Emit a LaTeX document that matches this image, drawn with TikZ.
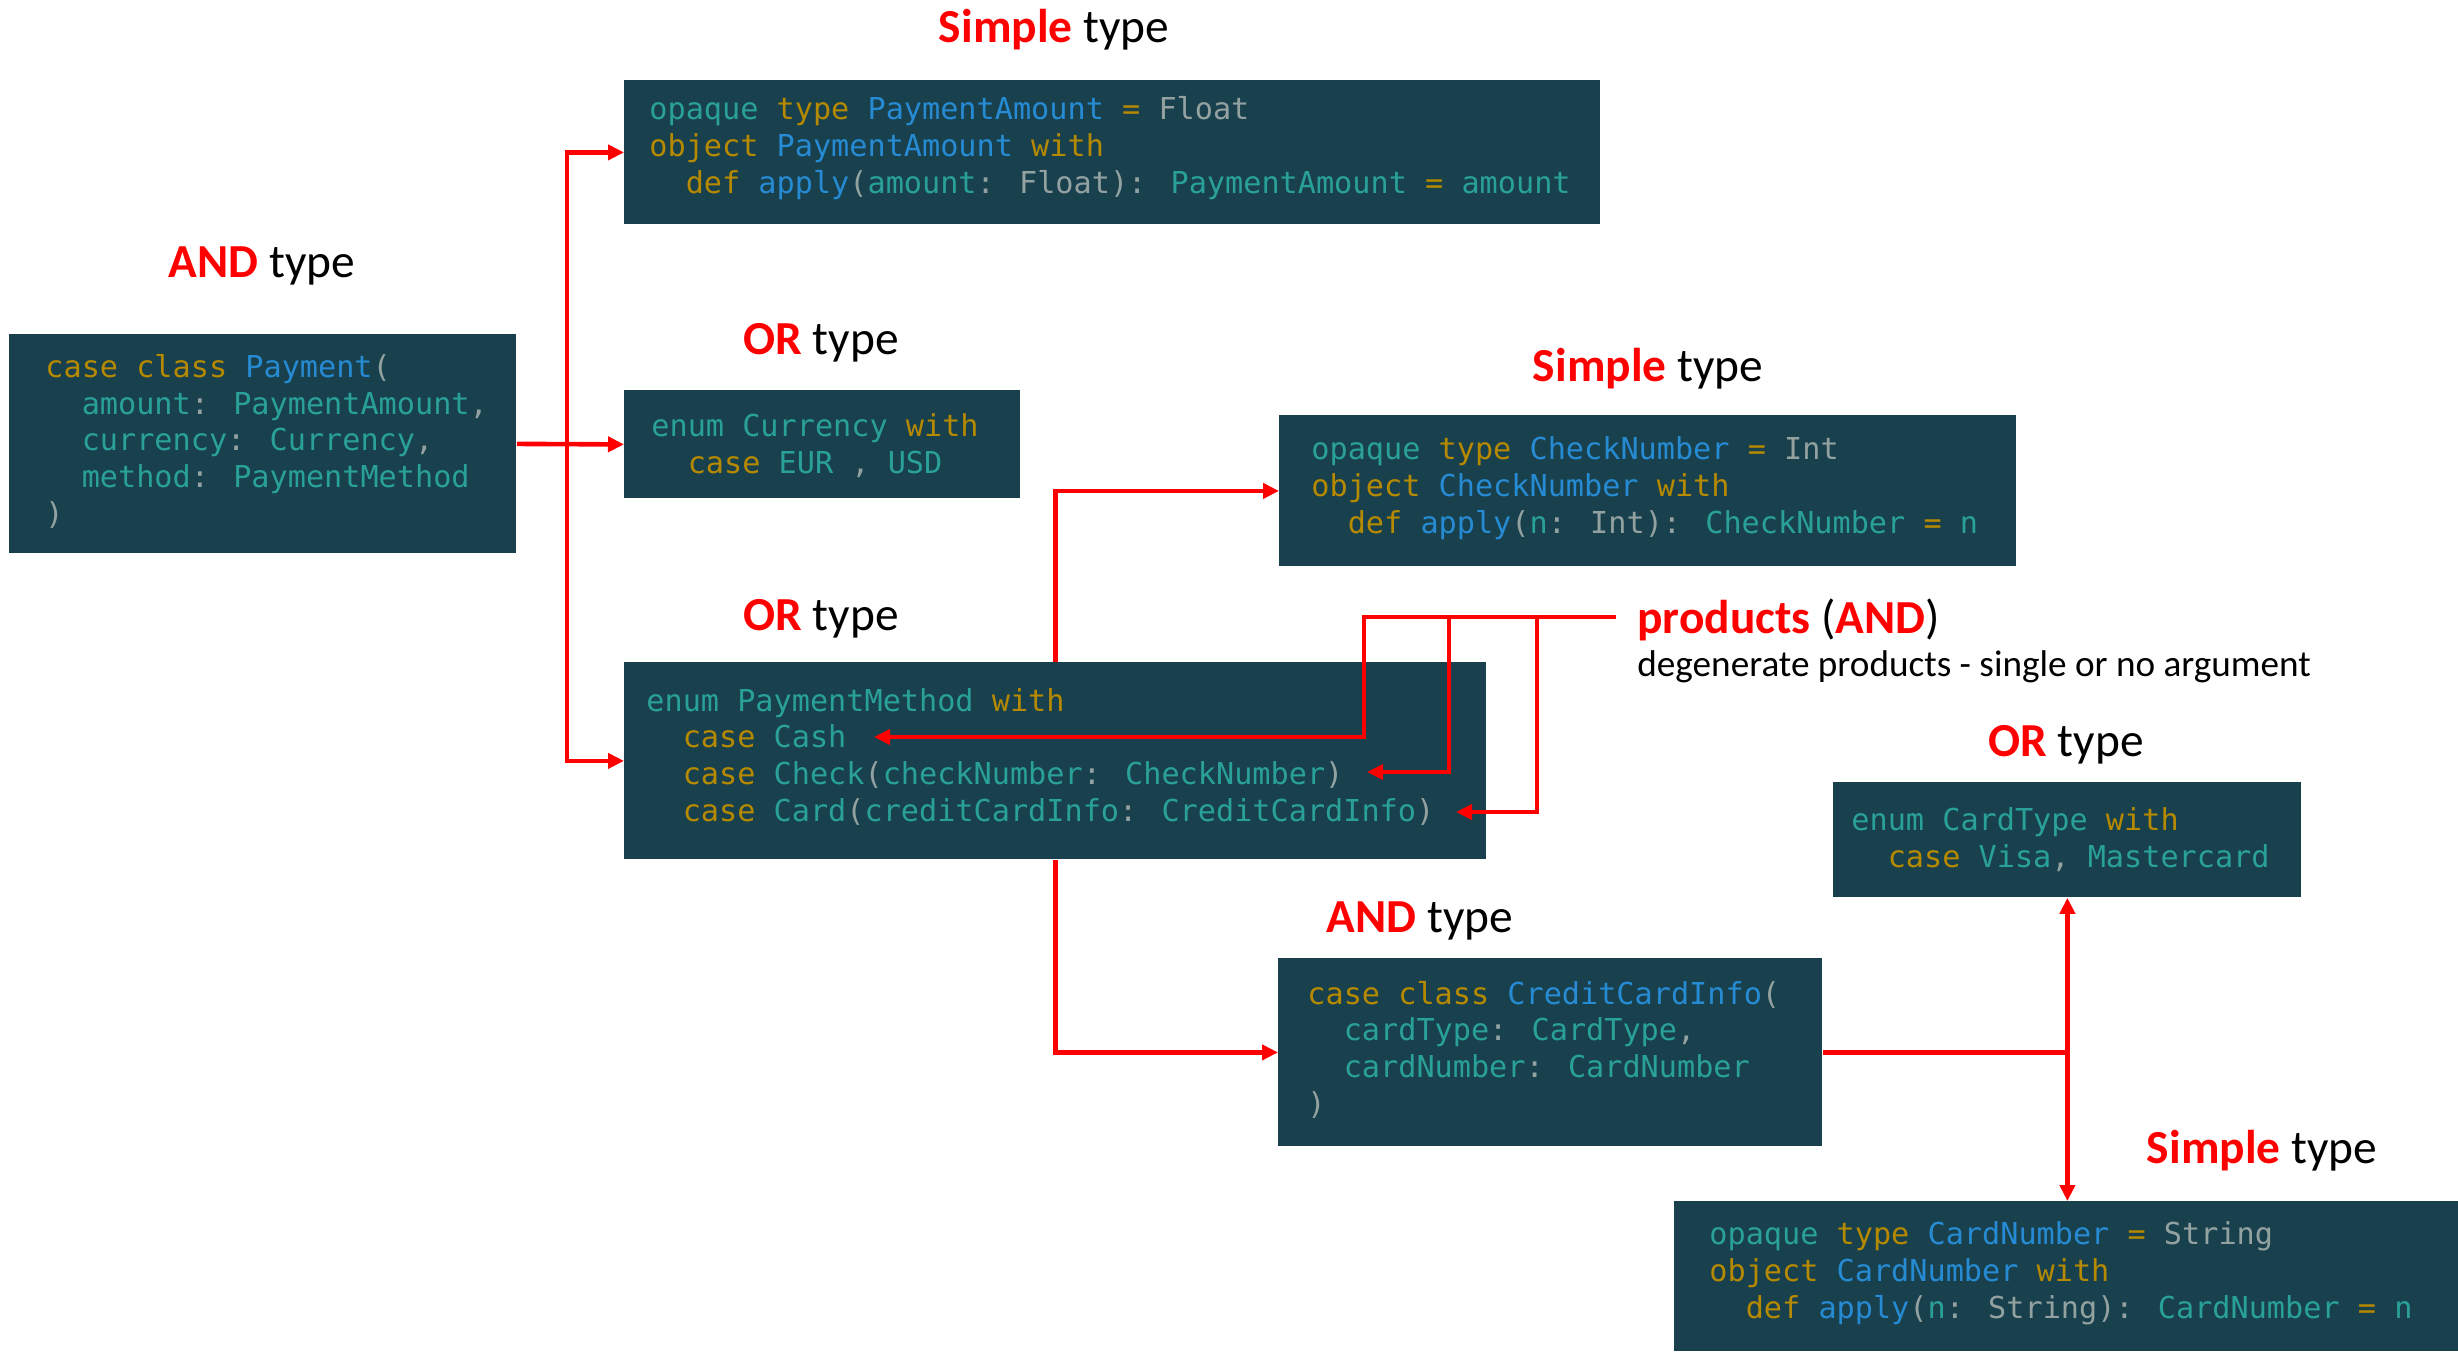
\documentclass[tikz,border=0pt]{standalone}
\usepackage{fontspec}
\usetikzlibrary{arrows.meta}
\setmainfont{Carlito}
\newfontfamily\codefont{DejaVu Sans Mono}
\definecolor{boxbg}{HTML}{18404D}
\definecolor{cy}{HTML}{B58900}
\definecolor{cb}{HTML}{268BD2}
\definecolor{ct}{HTML}{2AA198}
\definecolor{cg}{HTML}{93A1A1}
\definecolor{tred}{HTML}{FF0000}
\newcommand\Kw[1]{\textcolor{cy}{#1}}
\newcommand\Ty[1]{\textcolor{cb}{#1}}
\newcommand\Id[1]{\textcolor{ct}{#1}}
\newcommand\Pu[1]{\textcolor{cg}{#1}}
\newcommand\Ind{\phantom{xx}}
\newcommand\Red[1]{\textcolor{tred}{\bfseries #1}}
\tikzset{
  codebox/.style={fill=boxbg, draw=none, inner sep=0, anchor=north west},
  code/.style={anchor=base west, inner sep=0, align=left, font=\codefont\fontsize{15.1}{18.3}\selectfont},
  title/.style={anchor=base, inner sep=0, font=\fontsize{23.7}{28}\selectfont},
  conn/.style={draw=tred, line width=2.3pt},
  arr/.style={conn, -{Triangle[length=8pt,width=7.5pt]}},
  darr/.style={conn, {Triangle[length=8pt,width=7.5pt]}-{Triangle[length=8pt,width=7.5pt]}},
}
\begin{document}
\begin{tikzpicture}[x=0.5pt,y=-0.5pt]
\useasboundingbox (0,0) rectangle (2458,1351);
\fill[white] (0,0) rectangle (2458,1351);

% boxes
\node (pa)  [codebox, minimum width=488pt,   minimum height=72pt]   at (624,80)   {};
\node (pay) [codebox, minimum width=253.5pt, minimum height=109.5pt] at (9,334)   {};
\node (cur) [codebox, minimum width=198pt,   minimum height=54pt]   at (624,390)  {};
\node (chk) [codebox, minimum width=368.5pt, minimum height=75.5pt] at (1279,415) {};
\node (pm)  [codebox, minimum width=431pt,   minimum height=98.5pt] at (624,662)  {};
\node (ct)  [codebox, minimum width=234pt,   minimum height=57.5pt] at (1833,782) {};
\node (cci) [codebox, minimum width=272pt,   minimum height=94pt]   at (1278,958) {};
\node (cn)  [codebox, minimum width=392pt,   minimum height=75pt]   at (1674,1201){};

% code (anchored at the baseline of the last line)
\node (paT) [code] at (649,193) {\Id{opaque} \Kw{type} \Ty{PaymentAmount} \Kw{=} \Pu{Float}\\
\Kw{object} \Ty{PaymentAmount} \Kw{with}\\
\Ind\Kw{def} \Ty{apply}\Pu{(}\Id{amount}\Pu{:} \Pu{Float}\Pu{):} \Id{PaymentAmount} \Kw{=} \Id{amount}};

\node (payT) [code] at (45,524) {\Kw{case} \Kw{class} \Ty{Payment}\Pu{(}\\
\Ind\Id{amount}\Pu{:} \Id{PaymentAmount}\Pu{,}\\
\Ind\Id{currency}\Pu{:} \Id{Currency}\Pu{,}\\
\Ind\Id{method}\Pu{:} \Id{PaymentMethod}\\
\Pu{)}};

\node (curT) [code] at (651,473) {\Id{enum} \Id{Currency} \Kw{with}\\
\Ind\Kw{case} \Id{EUR} \Pu{,} \Id{USD}};

\node (chkT) [code] at (1311,533) {\Id{opaque} \Kw{type} \Ty{CheckNumber} \Kw{=} \Pu{Int}\\
\Kw{object} \Ty{CheckNumber} \Kw{with}\\
\Ind\Kw{def} \Ty{apply}\Pu{(}\Id{n}\Pu{:} \Pu{Int}\Pu{):} \Id{CheckNumber} \Kw{=} \Id{n}};

\node (pmT) [code] at (646,821) {\Id{enum} \Id{PaymentMethod} \Kw{with}\\
\Ind\Kw{case} \Id{Cash}\\
\Ind\Kw{case} \Id{Check}\Pu{(}\Id{checkNumber}\Pu{:} \Id{CheckNumber}\Pu{)}\\
\Ind\Kw{case} \Id{Card}\Pu{(}\Id{creditCardInfo}\Pu{:} \Id{CreditCardInfo}\Pu{)}};

\node (ctT) [code] at (1851,867) {\Id{enum} \Id{CardType} \Kw{with}\\
\Ind\Kw{case} \Id{Visa}\Pu{,} \Id{Mastercard}};

\node (cciT) [code] at (1307,1114) {\Kw{case} \Kw{class} \Ty{CreditCardInfo}\Pu{(}\\
\Ind\Id{cardType}\Pu{:} \Id{CardType}\Pu{,}\\
\Ind\Id{cardNumber}\Pu{:} \Id{CardNumber}\\
\Pu{)}};

\node (cnT) [code] at (1709,1318) {\Id{opaque} \Kw{type} \Ty{CardNumber} \Kw{=} \Pu{String}\\
\Kw{object} \Ty{CardNumber} \Kw{with}\\
\Ind\Kw{def} \Ty{apply}\Pu{(}\Id{n}\Pu{:} \Pu{String}\Pu{):} \Id{CardNumber} \Kw{=} \Id{n}};

% titles
\node (t1) [title] at (1054,42)  {\Red{Simple} type};
\node (t2) [title] at (262,277)  {\Red{AND} type};
\node (t3) [title] at (821,354)  {\Red{OR} type};
\node (t4) [title] at (1648,381) {\Red{Simple} type};
\node (t5) [title] at (821,630)  {\Red{OR} type};
\node (t6) [title] at (2066,756) {\Red{OR} type};
\node (t7) [title] at (1420,932) {\Red{AND} type};
\node (t8) [title] at (2262,1163){\Red{Simple} type};
\node (prt) [title, anchor=base west] at (1637,633) {\Red{products} (\Red{AND})};
\node (deg) [anchor=base west, inner sep=0, font=\fontsize{18.6}{22}\selectfont] at (1637,676) {degenerate products - single or no argument};

% connectors
\coordinate (sp) at (567,444);
\draw[arr] (pay.east) -- (cur.west);
\draw[arr] (sp) |- (pa.west);
\draw[arr] (sp) |- (pm.west);
\draw[arr] (pm.north) |- (chk.west);
\draw[arr] (pm.south) |- (cci.west);
\draw[conn] (cci.east) -- (cci.east -| ct.south);
\draw[darr] (ct.south) -- (ct.south |- cn.north);

\coordinate (prd) at (1616,617);
\coordinate (b1) at (1364,617);
\coordinate (b2) at (1449,617);
\coordinate (b3) at (1537,617);
\coordinate (e1) at (874,737);
\coordinate (e2) at (1367,772);
\coordinate (e3) at (1456,812);
\draw[arr] (prd) -- (b1) |- (e1);
\draw[arr] (b2) |- (e2);
\draw[arr] (b3) |- (e3);
\end{tikzpicture}
\end{document}
